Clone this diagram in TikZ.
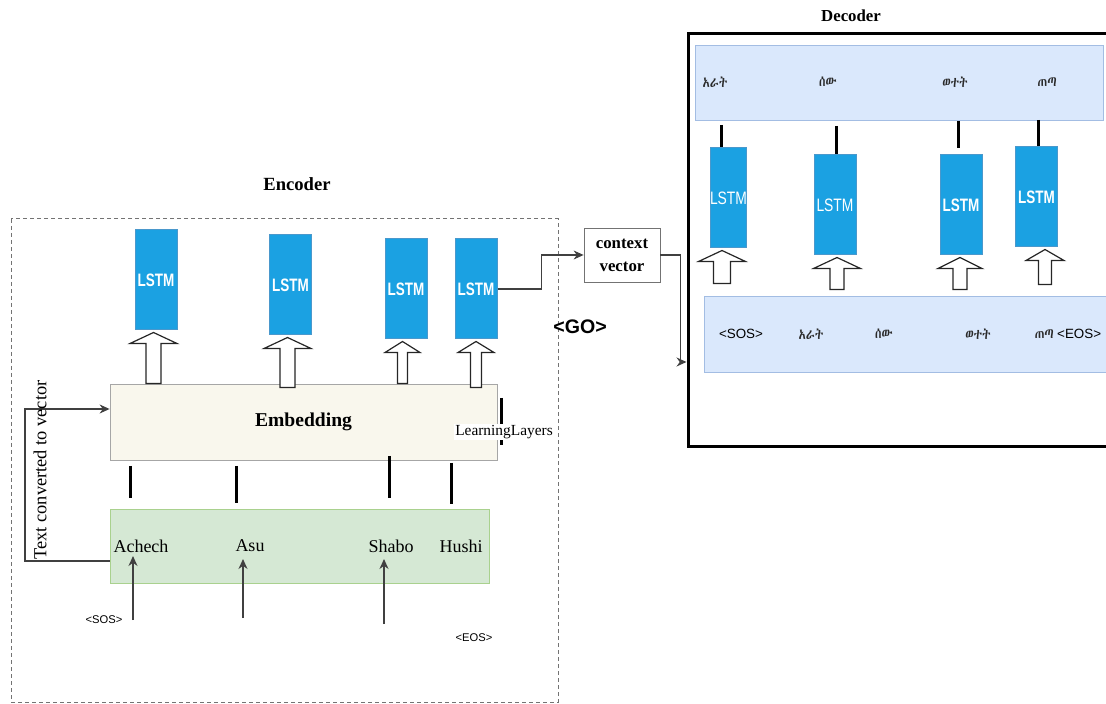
\documentclass[tikz,border=0pt]{standalone}
\usepackage{graphicx}
\usepackage{fontspec}
\setmainfont{Liberation Serif}
\setsansfont{Liberation Sans}
\IfFontExistsTF{Abyssinica SIL}{\newfontfamily\ethfont{Abyssinica SIL}}{%
  \IfFontExistsTF{FreeSerif}{\newfontfamily\ethfont{FreeSerif}}{\newfontfamily\ethfont{DejaVu Sans}}}
\usetikzlibrary{arrows.meta,calc}

\definecolor{lstmfill}{HTML}{1BA1E2}
\definecolor{lstmedge}{HTML}{4A98CC}
\definecolor{embfill}{HTML}{F9F7ED}
\definecolor{embedge}{HTML}{A6A6A6}
\definecolor{greenfill}{HTML}{D5E8D4}
\definecolor{greenedge}{HTML}{A9D18E}
\definecolor{bluefill}{HTML}{DAE8FC}
\definecolor{blueedge}{HTML}{A3BDE3}
\definecolor{ethtext}{HTML}{2A2A2A}

\newcommand\fsz[1]{\fontsize{#1}{#1}\selectfont}
\newcommand\lstmbold{\scalebox{0.75}[1]{\bfseries LSTM}}
\newcommand\lstmreg{\scalebox{0.77}[1]{LSTM}}
% narrow Ethiopic word
\newcommand\ethw[1]{\scalebox{0.82}[1]{\ethfont\color{ethtext}#1}}

% hollow block arrow: tip node, base node, x shift, base y shift, shaft half width, head half width
\newcommand\hollowup[6]{%
  \coordinate (ht) at ($(#1.south)+(#3,2)$);
  \coordinate (hb) at ($(ht |- #2.north)+(0,#4)$);
  \draw[hollow] ($(hb)+(-#5,0)$) -- ($(ht)+(-#5,11)$) -- ($(ht)+(-#6,11)$) -- (ht)
    -- ($(ht)+(#6,11)$) -- ($(ht)+(#5,11)$) -- ($(hb)+(#5,0)$) -- cycle;}

\begin{document}
\begin{tikzpicture}[x=0.5pt,y=-0.5pt,
  lstm/.style={draw=lstmedge,line width=0.5pt,fill=lstmfill,inner sep=0pt,
    minimum width=21pt,minimum height=50pt,text=white,font=\sffamily\fsz{9}},
  hollow/.style={draw=black!85,fill=white,line width=0.6pt},
  tick/.style={line width=1.5pt,black},
  conn/.style={draw=black!75,line width=0.6pt},
  tip/.style={-{Stealth[length=5pt,width=4.5pt]}},
  word/.style={font=\fsz{9}},
  eth/.style={font=\fsz{7.2}},
  tok/.style={font=\sffamily\fsz{5.6}},
  dtok/.style={font=\sffamily\fsz{6.7}},
  title/.style={font=\bfseries\fsz{9.3}},
]
\useasboundingbox (0,0) rectangle (1106,704);

% ---------------- encoder ----------------
\draw[draw=black!55,line width=0.5pt,dash pattern=on 2pt off 1.5pt] (11,219) rectangle (558,702);
\node[title] (enctitle) at (297,184) {Encoder};

\node[draw=embedge,fill=embfill,minimum width=193.5pt,minimum height=38pt,inner sep=0pt,
  font=\bfseries\fsz{9.8}] (emb) at (303.5,422) {Embedding};
\node[draw=greenedge,fill=greenfill,minimum width=189.5pt,minimum height=37pt,inner sep=0pt] (inp) at (299.5,546) {};

\node[word] (w1) at (141,546) {Achech};
\node[word] (w2) at (250,546) {Asu};
\node[word] (w3) at (391,546) {Shabo};
\node[word] (w4) at (461,546) {Hushi};

\node[lstm] (E1) at (156,280) {\lstmbold};
\node[lstm] (E2) at (290.5,285) {\lstmbold};
\node[lstm] (E3) at (406,289) {\lstmbold};
\node[lstm] (E4) at (476,289) {\lstmbold};

\hollowup{E1}{emb}{-2.5}{0}{7.5}{23.5}
\hollowup{E2}{emb}{-3}{4}{7.5}{23.5}
\hollowup{E3}{emb}{-3.5}{0}{5}{17.5}
\hollowup{E4}{emb}{0}{4}{5.5}{18}

% links between the embedding and the input words
\draw[tick] (130,466) -- (130,498);
\draw[tick] (236,466) -- (236,503);
\draw[tick] (389,456) -- (389,498);
\draw[tick] (451,463) -- (451,504);

\draw[tick] (501,398) -- (501,445);
\node[fill=white,inner sep=0.6pt,font=\fsz{7.7}] (ll) at (504,432) {LearningLayers};

% text-to-vector loop
\coordinate (tvA) at (25,561);
\coordinate (tvB) at (25,409);
\draw[conn,tip] (inp.west |- tvA) -- (tvA) -- (tvB) -- (emb.west |- tvB);
\node[rotate=90,font=\fsz{9.2}] (tcv) at (40,470) {Text converted to vector};

% input tokens
\coordinate (s1) at (133,620);
\coordinate (s2) at (243,618);
\coordinate (s3) at (384,624);
\draw[conn,tip] (s1) -- (s1 |- 0,556);
\draw[conn,tip] (s2) -- (s2 |- 0,559);
\draw[conn,tip] (s3) -- (s3 |- 0,559);
\node[tok] (sos) at (104,620) {<SOS>};
\node[tok] (eos) at (474,638) {<EOS>};

% ---------------- context ----------------
\node[draw=black!55,fill=white,minimum width=38pt,minimum height=27pt,inner sep=0pt,align=center,
  font=\bfseries\fontsize{8.4}{11.5}\selectfont] (ctx) at (622,255) {context\\vector};
\draw[conn,tip] (E4.east) -- ++(44,0) |- (ctx.west);
\node[font=\sffamily\bfseries\fsz{9.8}] (go) at (580,327) {<GO>};

% ---------------- decoder ----------------
\node[title,font=\bfseries\fsz{8.4}] (dectitle) at (851,16) {Decoder};
\node[draw,line width=1.5pt,minimum width=221pt,minimum height=206.5pt,inner sep=0pt] (dec) at (909,240.5) {};
\coordinate (gin) at (688,362);
\draw[conn,tip] (ctx.east) -- ++(20,0) |- (dec.west |- gin);

\node[draw=blueedge,fill=bluefill,minimum width=204pt,minimum height=37.5pt,inner sep=0pt] (outb) at (899,82.5) {};
\node[draw=blueedge,fill=bluefill,minimum width=208pt,minimum height=38pt,inner sep=0pt] (inb) at (912,334) {};

\node[eth] (o1) at (715,82) {\ethw{አራት}};
\node[eth] (o2) at (828,82) {\ethw{ሰው}};
\node[eth] (o3) at (955,82) {\ethw{ወተት}};
\node[eth] (o4) at (1047,82) {\ethw{ጠጣ}};

\node[dtok] (i0) at (741,334) {<SOS>};
\node[eth] (i1) at (811,334) {\ethw{አራት}};
\node[eth] (i2) at (884,334) {\ethw{ሰው}};
\node[eth] (i3) at (978,334) {\ethw{ወተት}};
\node[eth] (i4) at (1068,334) {\ethw{ጠጣ} \sffamily\fontsize{6.7}{6.7}\selectfont <EOS>};

\node[lstm,minimum width=16.5pt] (D1) at (728.5,198) {\lstmreg};
\node[lstm] (D2) at (835,205) {\lstmreg};
\node[lstm] (D3) at (961,205) {\lstmbold};
\node[lstm] (D4) at (1036.5,197) {\lstmbold};

\hollowup{D1}{inb}{-6.5}{-12}{8.5}{23.5}
\hollowup{D2}{inb}{2}{-6}{7}{23.5}
\hollowup{D3}{inb}{-1}{-6}{7}{22}
\hollowup{D4}{inb}{8.5}{-11}{6.5}{19}

\draw[tick] (721,125) -- (D1.north -| 721,0);
\draw[tick] (836,126) -- (D2.north -| 836,0);
\draw[tick] (958,121) -- (958,148);
\draw[tick] (1038,120) -- (D4.north -| 1038,0);
\end{tikzpicture}
\end{document}
